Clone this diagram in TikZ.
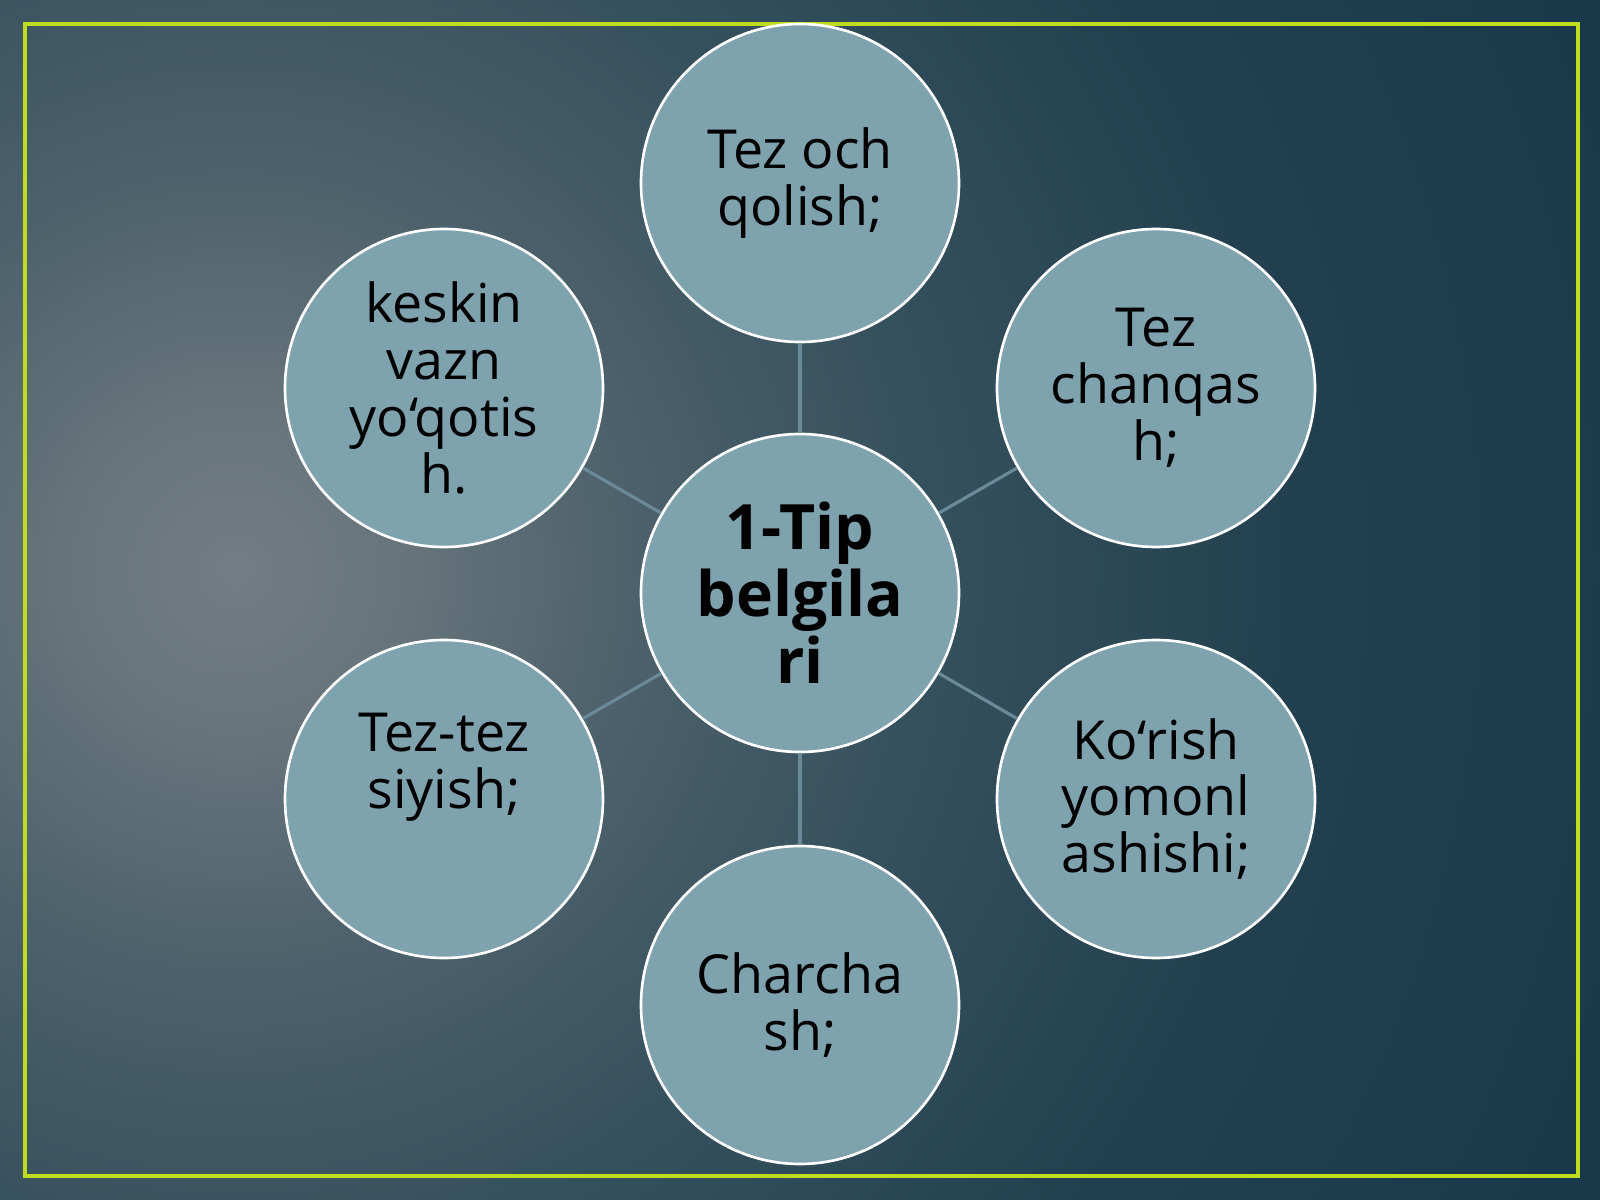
\documentclass[tikz,border=0pt]{standalone}
\usepackage{fontspec}
\setmainfont{Open Sans}
\usetikzlibrary{calc}
\definecolor{glowA}{HTML}{737D83}
\definecolor{glowB}{HTML}{68757C}
\definecolor{glowC}{HTML}{4C616B}
\definecolor{glowD}{HTML}{36515E}
\definecolor{glowE}{HTML}{22404F}
\definecolor{glowF}{HTML}{163547}
\definecolor{glowG}{HTML}{0E2C3E}
\definecolor{bubblefill}{HTML}{7FA2AF}
\definecolor{spokecol}{HTML}{6A8A99}
\definecolor{framecol}{HTML}{C0DC1E}
\pgfdeclareradialshading{glowshade}{\pgfpoint{0bp}{0bp}}{color(0bp)=(glowA); color(2.5bp)=(glowB); color(6.5bp)=(glowC); color(11bp)=(glowD); color(17bp)=(glowE); color(27bp)=(glowF); color(50bp)=(glowG)}

\begin{document}
\begin{tikzpicture}[x=0.1mm,y=-0.1mm,
  bubble/.style={circle,draw=white,line width=0.75pt,fill=bubblefill,minimum size=3.18cm,inner sep=0pt,align=center,text=black,font=\fontsize{15.3}{16.2}\selectfont},
  hub/.style={bubble,font=\fontsize{17.8}{19}\selectfont\bfseries},
  spoke/.style={spokecol,line width=0.9pt}]
\useasboundingbox (0,0) rectangle (1600,1200);
% background
\begin{scope}
\clip (0,0) rectangle (1600,1200);
\fill[glowG] (0,0) rectangle (1600,1200);
\shade[shading=glowshade] (235,570) ++(-1550,-1550) rectangle ++(3100,3100);
\end{scope}
\draw[framecol,line width=1.3pt] (25,24) rectangle (1578,1176);
% the hub and its six bubbles
\node[hub] (hub) at (800,593) {1-Tip\\belgila\\ri};
\node[bubble] (och) at (800,183) {Tez och\\qolish;};
\node[bubble] (chanq) at (1156,388) {Tez\\chanqas\\h;};
\node[bubble] (korish) at (1156,799) {Ko‘rish\\yomonl\\ashishi;};
\node[bubble] (charch) at (800,1005) {Charcha\\sh;};
\node[bubble] (siyish) at (444,799) {Tez-tez\\siyish;\\[0.2cm]\mbox{}};
\node[bubble] (vazn) at (444,388) {keskin\\vazn\\yo‘qotis\\h.};
% spokes
\draw[spoke] (hub) -- (och);
\draw[spoke] (hub) -- (chanq);
\draw[spoke] (hub) -- (korish);
\draw[spoke] (hub) -- (charch);
\draw[spoke] (hub) -- (siyish);
\draw[spoke] (hub) -- (vazn);
\end{tikzpicture}
\end{document}
